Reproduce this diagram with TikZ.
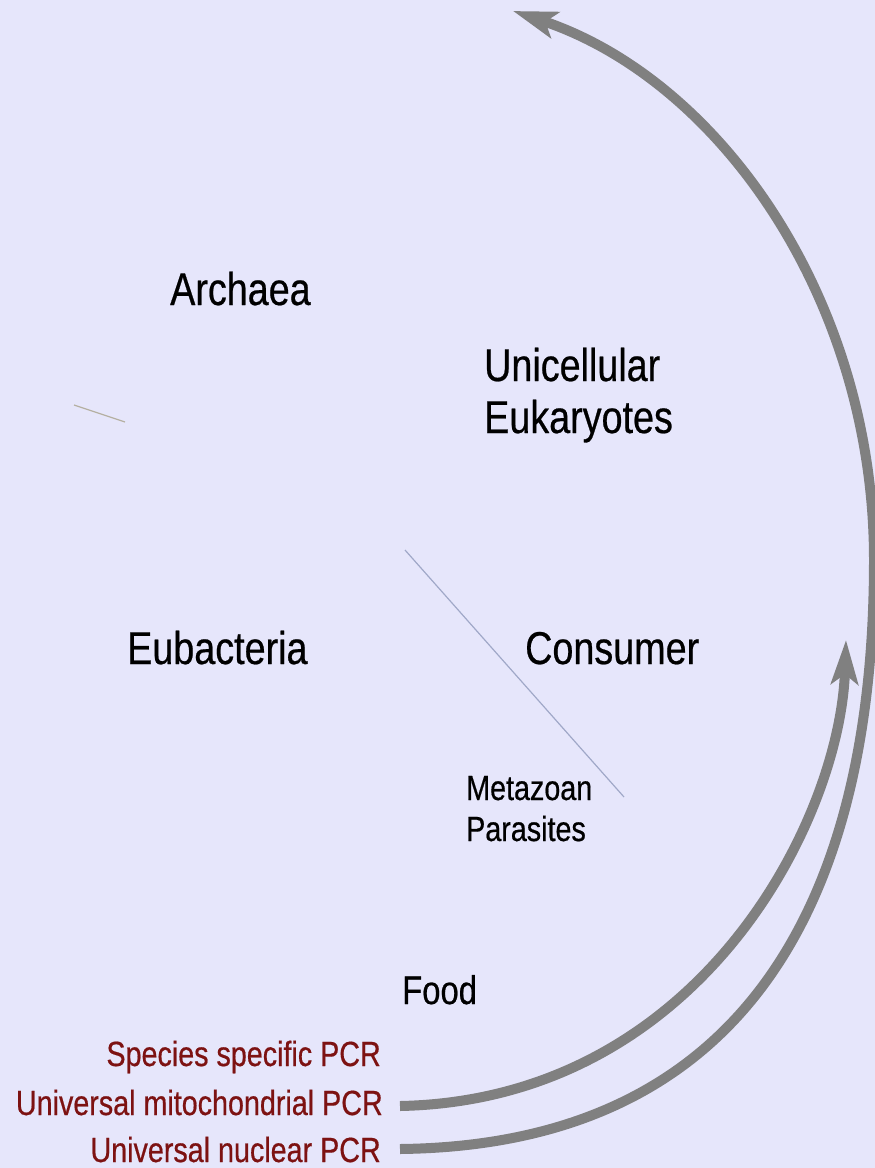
\documentclass[tikz,border=0pt]{standalone}
\usepackage{fontspec}
\setmainfont{Liberation Sans}
\newfontfamily\labfont[FakeStretch=0.82,FakeBold=0.5]{Liberation Sans}
\usetikzlibrary{arrows.meta}
\definecolor{bg}{RGB}{230,230,251}
\definecolor{arrowgray}{RGB}{128,128,128}
\definecolor{pcrred}{RGB}{125,18,18}
\definecolor{tanline}{RGB}{180,175,160}
\definecolor{blueline}{RGB}{160,168,200}
\begin{document}
\begin{tikzpicture}[x=1pt,y=-1pt,
  big/.style={font=\labfont\fontsize{46}{50}\selectfont, inner sep=0pt, anchor=base west, text=black},
  small/.style={font=\labfont\fontsize{35}{40}\selectfont, inner sep=0pt, anchor=base west, text=black},
  foodlab/.style={font=\labfont\fontsize{40}{44}\selectfont, inner sep=0pt, anchor=base west, text=black},
  pcr/.style={font=\labfont\fontsize{35}{40}\selectfont, inner sep=0pt, anchor=base east, text=pcrred},
  bigarrow/.style={draw=arrowgray, line width=10pt, -{Stealth[length=44pt,width=27pt,inset=10pt]}},
  thin/.style={line width=1.2pt}]
\fill[bg] (0,0) rectangle (875,1168);
\useasboundingbox (0,0) rectangle (875,1168);

% labels
\node[big] (archaea) at (170,305) {Archaea};
\node[big] (uni1) at (484,381) {Unicellular};
\node[big] (uni2) at (484,433) {Eukaryotes};
\node[big] (eubac) at (127,664) {Eubacteria};
\node[big] (consumer) at (525,664) {Consumer};
\node[small] (meta1) at (466,800) {Metazoan};
\node[small] (meta2) at (466,841) {Parasites};
\node[foodlab] (food) at (402,1004) {Food};
\node[pcr] (species) at (381,1066) {Species specific PCR};
\node[pcr] (mito) at (383,1115) {Universal mitochondrial PCR};
\node[pcr] (nuclear) at (381,1162) {Universal nuclear PCR};

% thin lines
\coordinate (t1a) at (74,405);
\coordinate (t1b) at (125,422);
\coordinate (t2a) at (405,550);
\coordinate (t2b) at (624,797);
\draw[thin, tanline] (t1a) -- (t1b);
\draw[thin, blueline] (t2a) -- (t2b);

% arrows
\coordinate (mstart) at (400,1106);
\coordinate (mend) at (846,640);
\coordinate (nstart) at (400,1149);
\coordinate (nmid) at (874,560);
\coordinate (nend) at (513,11);
\draw[bigarrow] (mstart) .. controls (700,1100) and (840,820) .. (mend);
\draw[bigarrow] (nstart) .. controls (760,1145) and (874,880) .. (nmid)
  .. controls (874,300) and (720,80) .. (nend);
\end{tikzpicture}
\end{document}
